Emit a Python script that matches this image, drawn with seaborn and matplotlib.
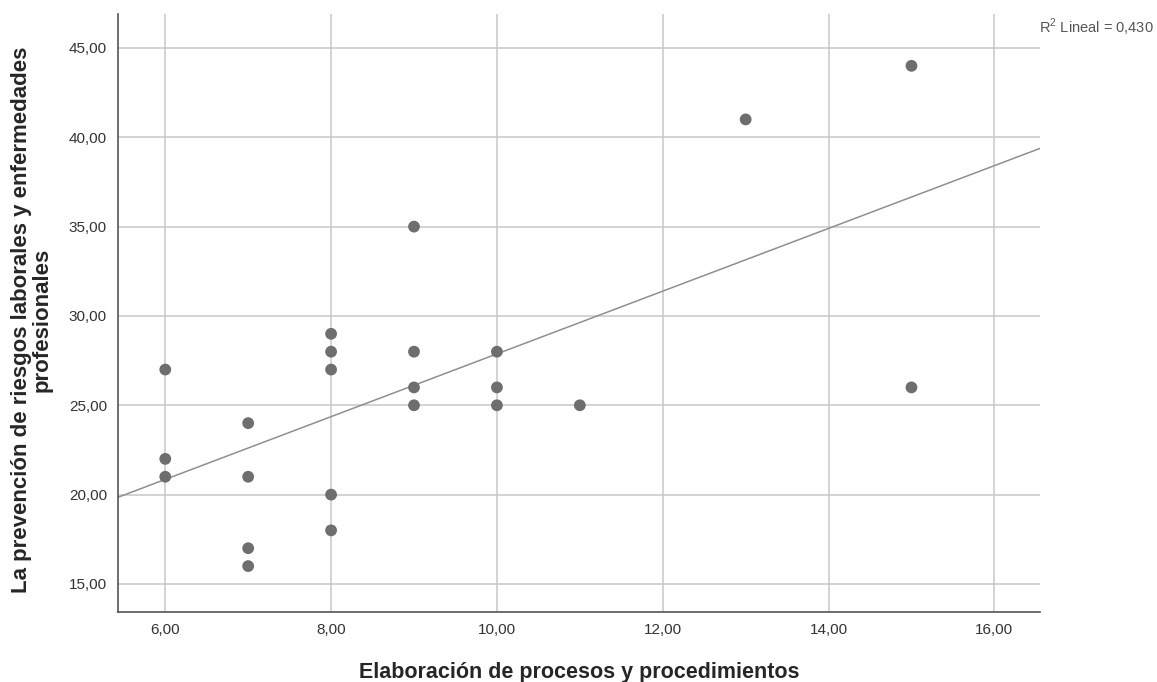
import numpy as np
import pandas as pd
import seaborn as sns
import matplotlib.pyplot as plt
from matplotlib.ticker import FuncFormatter

# valores
elaboracion = [6, 6, 6, 7, 7, 7, 7, 8, 8, 8, 8, 8, 9, 9, 9, 9, 10, 10, 10, 11, 13, 15, 15]
prevencion = [27, 22, 21, 24, 21, 17, 16, 29, 28, 27, 20, 18, 35, 28, 26, 25, 28, 26, 25, 25, 41, 44, 26]
x_ticks = [6, 8, 10, 12, 14, 16]
y_ticks = [15, 20, 25, 30, 35, 40, 45]

df = pd.DataFrame({'x': elaboracion, 'y': prevencion})

sns.set_style('white')
plt.rcParams['font.family'] = ['Liberation Sans', 'DejaVu Sans']
plt.rcParams['mathtext.fontset'] = 'custom'
plt.rcParams['mathtext.rm'] = 'Liberation Sans'

fig = plt.figure(figsize=(11.57, 6.82), dpi=100)
ax = fig.add_axes([118 / 1157, 1 - 612 / 682, (1040 - 118) / 1157, (612 - 14) / 682])

ax.set_xlim(5.43, 16.55)
ax.set_ylim(13.43, 46.9)
ax.set_xticks(x_ticks)
ax.set_yticks(y_ticks)
ax.grid(True, color='#c8c8c8', linewidth=1.1)
ax.set_axisbelow(True)

sns.regplot(data=df, x='x', y='y', ax=ax, ci=None, truncate=False,
            scatter_kws={'s': 72, 'color': '#6e6e6e', 'edgecolor': 'none', 'alpha': 1, 'zorder': 3},
            line_kws={'color': '#8f8f8f', 'linewidth': 1.1, 'zorder': 2})

fmt = FuncFormatter(lambda v, p: f'{v:.2f}'.replace('.', ','))
ax.xaxis.set_major_formatter(fmt)
ax.yaxis.set_major_formatter(fmt)
ax.tick_params(length=3, width=1, color='#999999', labelsize=11, labelcolor='#333333', pad=5)

for s in ['top', 'right']:
    ax.spines[s].set_visible(False)
for s in ['left', 'bottom']:
    ax.spines[s].set_color('#555555')
    ax.spines[s].set_linewidth(1.2)

ax.set_xlabel('Elaboración de procesos y procedimientos', fontsize=15.5, fontweight='bold', labelpad=18)
ax.set_ylabel('La prevención de riesgos laborales y enfermedades\nprofesionales',
              fontsize=16, fontweight='bold', linespacing=1.0)
ax.yaxis.set_label_coords(-0.0705, 0.488)

fig.text(1154 / 1157, 1 - 27 / 682, r'R$^{\mathrm{2}}$ Lineal = 0,430', ha='right', va='center',
         fontsize=10.5, color='#555555')

fig.savefig('out.png', dpi=100)
